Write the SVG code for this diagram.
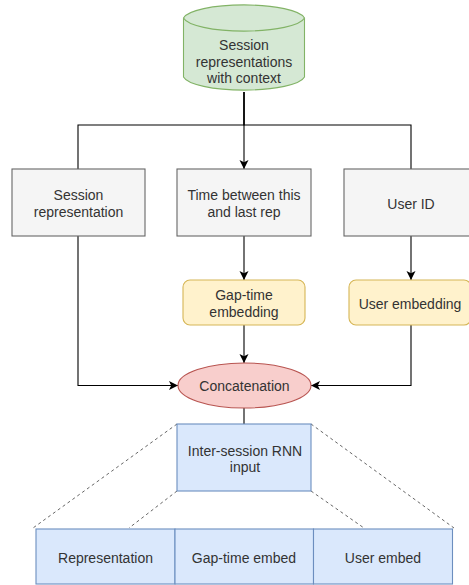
<svg xmlns="http://www.w3.org/2000/svg" width="469" height="585" viewBox="0 0 469 585">
<defs>
<style>
text{font-family:"Liberation Sans",Arial,sans-serif;font-size:14px;fill:#333333;text-anchor:middle}
.gray{fill:#f5f5f5;stroke:#666666;stroke-width:1.1}
.green{fill:#d5e8d4;stroke:#82b366;stroke-width:1.1}
.yellow{fill:#fff2cc;stroke:#d6b656;stroke-width:1.1}
.red{fill:#f8cecc;stroke:#b85450;stroke-width:1.1}
.blue{fill:#dae8fc;stroke:#6c8ebf;stroke-width:1.1}
.edge{fill:none;stroke:#000000;stroke-width:1.1}
.dash{fill:none;stroke:#555555;stroke-width:0.9;stroke-dasharray:3 3}
</style>
<marker id="arr" markerUnits="userSpaceOnUse" markerWidth="10" markerHeight="10" viewBox="0 0 10 10" refX="9" refY="5" orient="auto">
<path d="M0,0.5 L9,5 L0,9.5 L2.2,5 Z" fill="#000000"/>
</marker>
</defs>
<g id="connectors">
<path class="edge" d="M244,92 V125 H78 V169"/>
<path class="edge" d="M244,92 V125 H411 V169"/>
<path class="edge" d="M244,92 V169" marker-end="url(#arr)"/>
<path class="edge" d="M244,236 V280" marker-end="url(#arr)"/>
<path class="edge" d="M411,236 V280" marker-end="url(#arr)"/>
<path class="edge" d="M244,325 V363" marker-end="url(#arr)"/>
<path class="edge" d="M78,236 V385.5 H178" marker-end="url(#arr)"/>
<path class="edge" d="M411,325 V385.5 H311" marker-end="url(#arr)"/>
<path class="edge" d="M244,408 V424"/>
<path class="dash" d="M177,424 L33,528"/>
<path class="dash" d="M177,491 L129,528"/>
<path class="dash" d="M311,424 L454,528"/>
<path class="dash" d="M311,491 L364,528"/>
</g>
<g id="session-db">
<path class="green" d="M183.5,18 A61,15 0 0 1 304.5,18 V77 A61,15 0 0 1 183.5,77 Z"/>
<path class="green" d="M183.5,18 A61,15 0 0 0 304.5,18" fill="none"/>
<text x="244" y="50">Session</text>
<text x="244" y="66.5">representations</text>
<text x="244" y="83">with context</text>
</g>
<g id="session-rep">
<rect class="gray" x="12" y="169" width="133" height="67"/>
<text x="78.5" y="200.3">Session</text>
<text x="78.5" y="216.8">representation</text>
</g>
<g id="time-between">
<rect class="gray" x="177" y="169" width="134" height="67"/>
<text x="244" y="200.3">Time between this</text>
<text x="244" y="216.8">and last rep</text>
</g>
<g id="user-id">
<rect class="gray" x="344" y="169" width="134" height="67"/>
<text x="411" y="208.8">User ID</text>
</g>
<g id="gap-time-embedding">
<rect class="yellow" x="183" y="280" width="122" height="45" rx="7"/>
<text x="244" y="300">Gap-time</text>
<text x="244" y="316.5">embedding</text>
</g>
<g id="user-embedding">
<rect class="yellow" x="349" y="280" width="122" height="45" rx="7"/>
<text x="410" y="308.8">User embedding</text>
</g>
<g id="concatenation">
<ellipse class="red" cx="244.5" cy="385.5" rx="66.5" ry="22.5"/>
<text x="244.5" y="391">Concatenation</text>
</g>
<g id="rnn-input">
<rect class="blue" x="177" y="424" width="134" height="67"/>
<text x="245" y="455.8">Inter-session RNN</text>
<text x="245" y="472">input</text>
</g>
<g id="input-row">
<rect class="blue" x="36" y="529" width="139" height="55"/>
<rect class="blue" x="175" y="529" width="138.5" height="55"/>
<rect class="blue" x="313.5" y="529" width="139" height="55"/>
<text x="105.5" y="562.5">Representation</text>
<text x="244" y="562.5">Gap-time embed</text>
<text x="383" y="562.5">User embed</text>
</g>
</svg>
